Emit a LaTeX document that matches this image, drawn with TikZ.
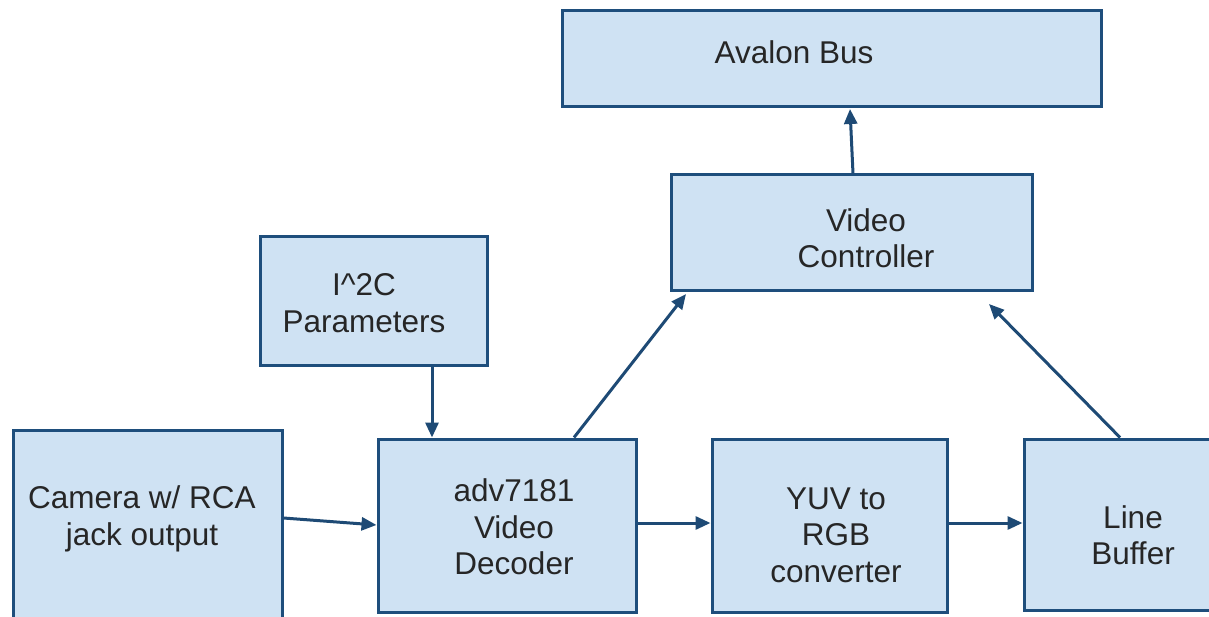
\documentclass[tikz,border=0pt]{standalone}
\usepackage{fontspec}
\setmainfont{Liberation Sans}
\usetikzlibrary{arrows.meta}
\definecolor{boxfill}{HTML}{CFE2F3}
\definecolor{boxline}{HTML}{1E4E7C}
\definecolor{arrcol}{HTML}{1E4A75}
\tikzset{
  box/.style={draw=boxline, fill=boxfill, line width=3pt, inner sep=0pt, rectangle},
  lbl/.style={align=center, inner sep=0pt, font=\fontsize{31.5}{36.5}\selectfont, text=black!85},
  arr/.style={draw=arrcol, line width=3pt, -{Triangle[length=15pt,width=13pt]}}
}
\begin{document}
\begin{tikzpicture}[x=1pt,y=-1pt]
\useasboundingbox (0,0) rectangle (1209,617);
\clip (0,0) rectangle (1209,617);
\fill[white] (0,0) rectangle (1209,617);
% boxes
\node[box, minimum width=539pt, minimum height=96pt] (avalon) at (831.5,59) {};
\node[box, minimum width=361pt, minimum height=116pt] (vc) at (851.5,233) {};
\node[box, minimum width=227pt, minimum height=128pt] (i2c) at (373.5,301) {};
\node[box, minimum width=269pt, minimum height=220pt] (cam) at (147.5,540) {};
\node[box, minimum width=258pt, minimum height=173pt] (adv) at (507,525.5) {};
\node[box, minimum width=235pt, minimum height=173pt] (yuv) at (829.5,525.5) {};
\node[box, minimum width=216pt, minimum height=171pt] (lb) at (1132,524.5) {};
% labels
\node[lbl] (tavalon) at (794,52) {Avalon Bus};
\node[lbl] (tvc) at (866,238) {Video\\Controller};
\node[lbl] (ti2c) at (364,303) {I\textasciicircum 2C\\Parameters};
\node[lbl] (tcam) at (142,519) {Camera w/ RCA\\jack output};
\node[lbl] (tadv) at (514,527) {adv7181\\Video\\Decoder};
\node[lbl] (tyuv) at (836,535) {YUV to\\RGB\\converter};
\node[lbl] (tlb) at (1133,535) {Line\\Buffer};
% connectors
\draw[arr] (cam.east |- 0,518) -- (adv.west |- 0,525);
\draw[arr] (i2c.south -| 432,0) -- (adv.north -| 432,0);
\draw[arr] (adv.north -| 574,0) -- (686,294);
\draw[arr] (adv.east |- 0,523) -- (yuv.west |- 0,523);
\draw[arr] (yuv.east |- 0,523) -- (lb.west |- 0,523);
\draw[arr] (lb.north -| 1120,0) -- (989,304);
\draw[arr] (vc.north -| 853,0) -- (850,109);
\end{tikzpicture}
\end{document}
